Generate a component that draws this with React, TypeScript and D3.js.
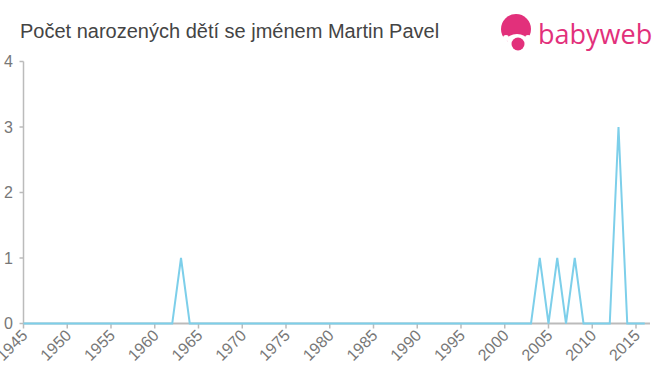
import React from "react";
import * as d3 from "d3";

const years: number[] = [
  1945, 1946, 1947, 1948, 1949, 1950, 1951, 1952, 1953, 1954, 1955, 1956, 1957, 1958, 1959,
  1960, 1961, 1962, 1963, 1964, 1965, 1966, 1967, 1968, 1969, 1970, 1971, 1972, 1973, 1974,
  1975, 1976, 1977, 1978, 1979, 1980, 1981, 1982, 1983, 1984, 1985, 1986, 1987, 1988, 1989,
  1990, 1991, 1992, 1993, 1994, 1995, 1996, 1997, 1998, 1999, 2000, 2001, 2002, 2003, 2004,
  2005, 2006, 2007, 2008, 2009, 2010, 2011, 2012, 2013, 2014, 2015, 2016,
];
const counts: number[] = [
  0, 0, 0, 0, 0, 0, 0, 0, 0, 0, 0, 0, 0, 0, 0,
  0, 0, 0, 1, 0, 0, 0, 0, 0, 0, 0, 0, 0, 0, 0,
  0, 0, 0, 0, 0, 0, 0, 0, 0, 0, 0, 0, 0, 0, 0,
  0, 0, 0, 0, 0, 0, 0, 0, 0, 0, 0, 0, 0, 0, 1,
  0, 1, 0, 1, 0, 0, 0, 0, 3, 0, 0, 0,
];
const xTicks: number[] = [1945, 1950, 1955, 1960, 1965, 1970, 1975, 1980, 1985, 1990, 1995, 2000, 2005, 2010, 2015];
const yTicks: number[] = [0, 1, 2, 3, 4];
const title = "Počet narozených dětí se jménem Martin Pavel";

const W = 660;
const H = 375;
const left = 23.5;
const right = 650;
const top = 61.5;
const bottom = 323.5;

export default function App() {
  const x = d3.scaleLinear().domain([1945, 2016.6]).range([left, right]);
  const y = d3.scaleLinear().domain([0, 4]).range([bottom, top]);
  const data = years.map((yr, i) => ({ yr, v: counts[i] }));
  const line = d3
    .line<{ yr: number; v: number }>()
    .x((d) => x(d.yr))
    .y((d) => y(d.v));
  const font = "Arial, 'Liberation Sans', Helvetica, sans-serif";
  const pink = "#e2307b";
  return (
    <svg
      width={W}
      height={H}
      style={{ position: "absolute", left: 0, top: 0, background: "#fff" }}
      fontFamily={font}
    >
      <text x={20} y={38} fontSize={20} fill="#444">
        {title}
      </text>
      {/* logo */}
      <g>
        <circle cx={516} cy={29} r={15} fill={pink} />
        <ellipse cx={517} cy={40} rx={10} ry={6} fill="#fff" />
        <circle cx={506} cy={38} r={3} fill="#fff" />
        <circle cx={528} cy={38} r={3} fill="#fff" />
        <circle cx={518} cy={44} r={6.5} fill={pink} />
        <text x={538} y={44} fontSize={27} fill={pink} fontFamily="'Open Sans', 'Noto Sans', sans-serif">
          babyweb
        </text>
      </g>
      {/* y axis */}
      <line x1={left} x2={left} y1={top} y2={bottom} stroke="#bbb" strokeWidth={1.5} />
      {yTicks.map((t) => (
        <g key={t}>
          <line x1={left - 4} x2={left} y1={y(t)} y2={y(t)} stroke="#bbb" strokeWidth={1.5} />
          <text x={13} y={y(t)} dy="0.35em" textAnchor="end" fontSize={16} fill="#777">
            {t}
          </text>
        </g>
      ))}
      {/* x axis */}
      <line x1={left} x2={right} y1={bottom} y2={bottom} stroke="#bbb" strokeWidth={2} />
      {xTicks.map((t) => (
        <g key={t}>
          <line x1={x(t)} x2={x(t)} y1={bottom} y2={bottom + 5} stroke="#bbb" strokeWidth={1.5} />
          <text
            transform={`translate(${x(t) + 5},${bottom + 13}) rotate(-45)`}
            textAnchor="end"
            fontSize={16}
            fill="#777"
          >
            {t}
          </text>
        </g>
      ))}
      <path d={line(data) || ""} fill="none" stroke="#7dcfea" strokeWidth={2} />
    </svg>
  );
}
